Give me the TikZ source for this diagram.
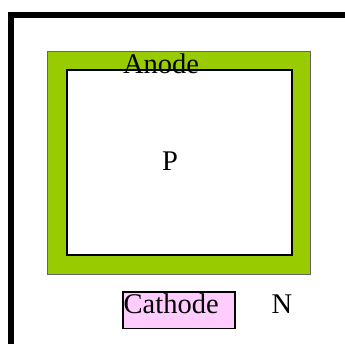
\documentclass[tikz,border=0pt]{standalone}
\usepackage{fontspec}
\setmainfont{Liberation Serif}
\definecolor{anodegreen}{HTML}{99CC00}
\definecolor{cathpink}{HTML}{FFCCFF}
\begin{document}
\begin{tikzpicture}[x=1pt,y=-1pt,
  lbl/.style={font=\fontsize{28.5}{30}\selectfont, inner sep=0pt, anchor=base}]
\useasboundingbox (0,0) rectangle (345,343);
\begin{scope}
\clip (0,0) rectangle (345,343);
\draw[line width=6pt] (11,360) -- (11,14.5) -- (360,14.5);
\end{scope}
\draw[fill=anodegreen, draw=gray!80!black, line width=0.8pt] (47.7,51.5) rectangle (310,274);
\draw[fill=white, draw=black, line width=2pt] (66.5,70) rectangle (292,255);
\node[lbl] (anode) at (161,73.5) {Anode};
\node[lbl] (p) at (170,170) {P};
\draw[fill=cathpink, draw=black, line width=1.2pt] (123,292) rectangle (235,328.5);
\node[lbl, anchor=base west] (cath) at (123.5,313) {Cathode};
\node[lbl] (n) at (282,313) {N};
\end{tikzpicture}
\end{document}
